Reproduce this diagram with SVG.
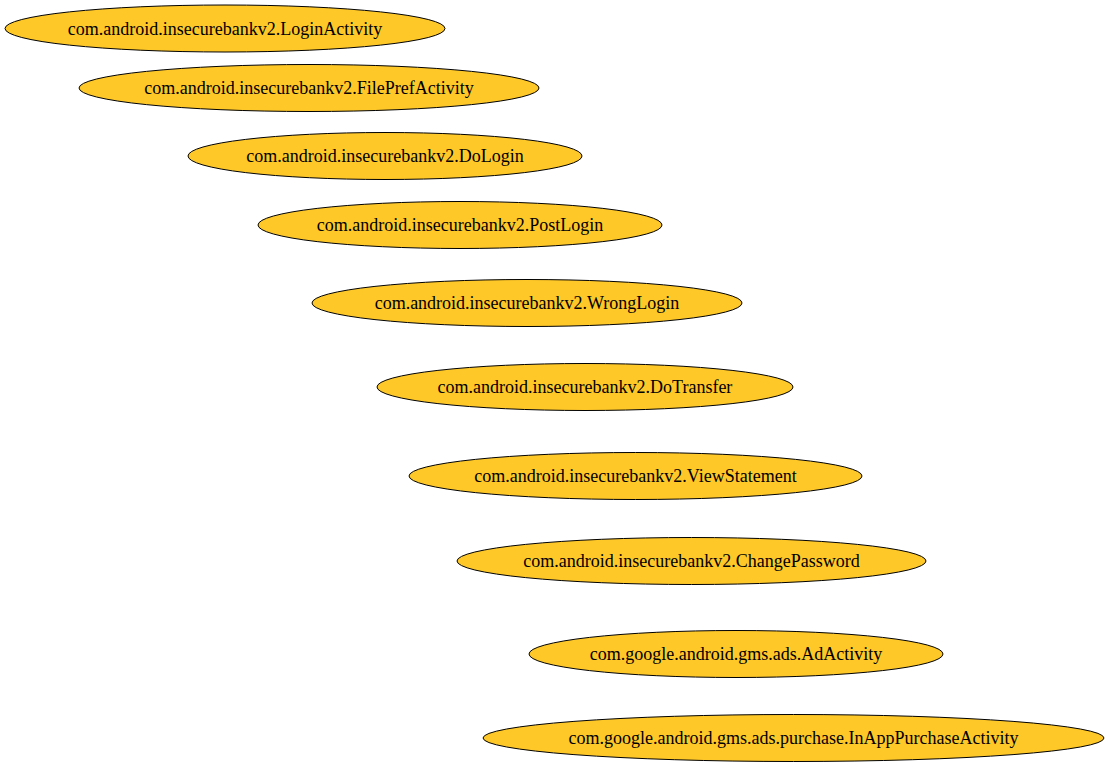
<svg xmlns="http://www.w3.org/2000/svg" width="1109" height="768" viewBox="0 0 1109 768">
<style>
.n ellipse{fill:#ffc829;stroke:#000;stroke-width:1}
.n text{font-family:"Liberation Serif","Times New Roman",serif;font-size:18px;text-anchor:middle;fill:#000}
</style>
<rect width="1109" height="768" fill="#fff"/>
<g id="connectors"></g>
<g id="n1" class="n"><ellipse cx="225" cy="28.5" rx="220" ry="23.5"/><text x="225" y="34.5">com.android.insecurebankv2.LoginActivity</text></g>
<g id="n2" class="n"><ellipse cx="309" cy="88" rx="230" ry="23.5"/><text x="309" y="94">com.android.insecurebankv2.FilePrefActivity</text></g>
<g id="n3" class="n"><ellipse cx="385" cy="156" rx="197" ry="23.5"/><text x="385" y="162">com.android.insecurebankv2.DoLogin</text></g>
<g id="n4" class="n"><ellipse cx="460" cy="225" rx="202" ry="23.5"/><text x="460" y="231">com.android.insecurebankv2.PostLogin</text></g>
<g id="n5" class="n"><ellipse cx="527" cy="303" rx="215" ry="23.5"/><text x="527" y="309">com.android.insecurebankv2.WrongLogin</text></g>
<g id="n6" class="n"><ellipse cx="585" cy="387" rx="208" ry="23.5"/><text x="585" y="393">com.android.insecurebankv2.DoTransfer</text></g>
<g id="n7" class="n"><ellipse cx="635.5" cy="476" rx="226.5" ry="23.5"/><text x="635.5" y="482">com.android.insecurebankv2.ViewStatement</text></g>
<g id="n8" class="n"><ellipse cx="691.5" cy="561" rx="234.5" ry="23.5"/><text x="691.5" y="567">com.android.insecurebankv2.ChangePassword</text></g>
<g id="n9" class="n"><ellipse cx="736" cy="654" rx="207" ry="23.5"/><text x="736" y="660">com.google.android.gms.ads.AdActivity</text></g>
<g id="n10" class="n"><ellipse cx="793.5" cy="738" rx="310.5" ry="23.5"/><text x="793.5" y="744">com.google.android.gms.ads.purchase.InAppPurchaseActivity</text></g>
</svg>
